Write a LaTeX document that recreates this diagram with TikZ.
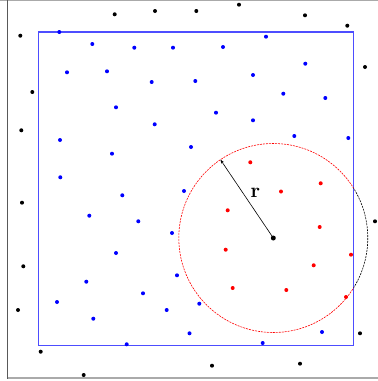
\documentclass[tikz,border=0pt]{standalone}
\usepackage{tikz}
\usetikzlibrary{arrows.meta}
\definecolor{boxBlue}{RGB}{77, 77, 255}
\definecolor{frameGray}{RGB}{170, 170, 170}

\begin{document}
\begin{tikzpicture}[x=1pt, y=-1pt, font=\small,
    pt/.style={radius=2},
    ring/.style={line width=0.6pt, dash pattern=on 2pt off 1pt}]
  \useasboundingbox (0,0) rectangle (378,381);
  % screenshot frame
  \draw[frameGray, line width=1.5pt] (0,0.7) -- (378,0.7);
  \draw[frameGray, line width=2pt] (7,378.3) -- (378,378.3);
  \draw[black!65, line width=1pt] (7.3,0) -- (7.3,379);

  % sampling window
  \draw[boxBlue, line width=1.1pt] (38.7,32) rectangle (353.7,345.3);

  % points outside the window
  \foreach \x/\y in {114.7/14.3, 155/11, 20.3/35.7, 32.3/92, 21.3/130.3,
      196.3/11, 239/4.7, 305/15.3, 347.3/25.7, 365/67, 22/202.7,
      23.3/266.3, 18/310, 40.7/351.7, 83.7/375, 375/221.3, 360/333.3,
      212/365.7, 300/363.7}
    \fill[black] (\x,\y) circle[pt];

  % points inside the window
  \foreach \x/\y in {59.3/32, 92.3/44, 134.3/47.7, 173/47.7, 67/72.3,
      107/71.3, 151.7/82, 116/107.3, 154.7/124.3, 60/140, 112/153.7,
      60.3/177.3, 266/36.7, 223/47, 305.3/63.7, 195.3/81, 253/75,
      283.3/93.7, 325.3/98, 216/112.7, 253/120.3, 294.3/136, 348.3/138,
      191/147, 122.3/195.3, 184/191, 89.3/215.7, 138.3/221.3, 172/233,
      116/253, 177/275.3, 86.3/281.7, 143/293.3, 57/302, 93.3/318.7,
      166.7/310, 189.5/333.3, 126.7/344.3, 199.3/303.7, 322/332, 262.7/343}
    \fill[blue] (\x,\y) circle[pt];

  % neighbours within r
  \foreach \x/\y in {250.3/162.3, 320.7/183.3, 281/191.5, 227.7/210.3,
      319.7/227, 225.7/249.7, 351/254.7, 313.7/265.3, 232.7/288,
      286.3/290, 346/297}
    \fill[red] (\x,\y) circle[pt];

  \coordinate (c) at (273.3,238);
  \path (c) ++(-124:94.5) coordinate (rim);

  % circle of radius r, split at the window edge
  \begin{scope}
    \clip (38.7,32) rectangle (353.7,345.3);
    \draw[red, ring] (c) circle[radius=94.5];
  \end{scope}
  \begin{scope}
    \clip (353.7,0) rectangle (378,381);
    \draw[black, ring] (c) circle[radius=94.5];
  \end{scope}

  \fill[black] (c) circle[radius=2.5];
  \draw[line width=0.6pt, -{Stealth[length=4pt, width=3pt]}] (c) -- (rim);
  \node[font=\huge\bfseries] (rlab) at (255.5,193) {r};
\end{tikzpicture}
\end{document}
